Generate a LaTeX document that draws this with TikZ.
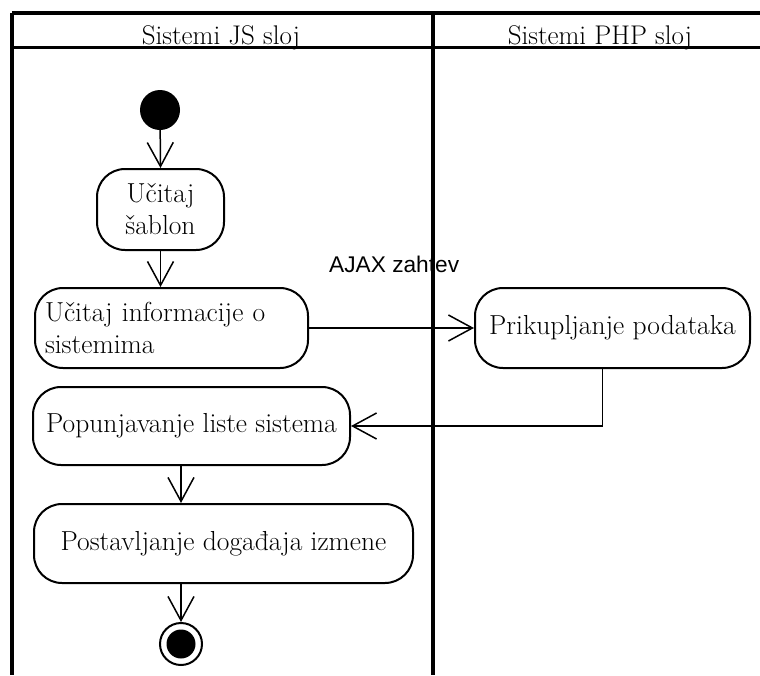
\documentclass[tikz,border=0pt]{standalone}
\usepackage{fontspec}
\newfontfamily\labelsans{Liberation Sans}
\usetikzlibrary{arrows.meta}
\begin{document}
\begin{tikzpicture}[x=1pt,y=-1pt,
  act/.style={draw, line width=2pt, rounded corners=28pt, inner sep=0pt,
    font=\fontsize{27.5}{32}\selectfont, align=center},
  flow/.style={line width=1.5pt, -{Straight Barb[length=24pt,width=26pt,line width=1.5pt]}},
  lane/.style={line width=4pt},
  lanetitle/.style={anchor=base, font=\fontsize{27}{30}\selectfont, inner sep=0pt}]
\useasboundingbox (0,0) rectangle (760,675);

% activities
\node[fill=black, circle, minimum size=40pt, inner sep=0pt] (start) at (160,110) {};
\node[act, minimum width=127pt, minimum height=81pt] (sab) at (160.5,209.5) {U\v{c}itaj\\\v{s}ablon};
\node[act, minimum width=273pt, minimum height=80pt, text width=253pt, inner xsep=10pt, align=left] (info) at (171.5,328)
  {U\v{c}itaj informacije o\\sistemima};
\node[act, minimum width=275pt, minimum height=80pt] (prik) at (612.5,328) {Prikupljanje podataka};
\node[act, minimum width=317pt, minimum height=78pt] (pop) at (191.5,426) {Popunjavanje liste sistema};
\node[act, minimum width=379pt, minimum height=79pt] (post) at (223.5,543.5) {Postavljanje doga\dj aja izmene};
\node[draw, circle, line width=2pt, minimum size=42pt, inner sep=0pt] (fin) at (181,644) {};
\node[fill=black, circle, minimum size=29pt, inner sep=0pt] (fincore) at (fin) {};

% connector label
\node[anchor=base west, inner sep=0pt, font=\labelsans\fontsize{22.7}{26}\selectfont] (ajax) at (329,272) {AJAX zahtev};

% control flow
\draw[flow] (start) -- (sab.north);
\draw[flow] (sab.south) -- (sab.south |- info.north);
\draw[flow] (info.east) -- (prik.west);
\draw[flow] ([xshift=-10pt]prik.south) |- (pop.east);
\draw[flow] (pop.south -| fin) -- (post.north -| fin);
\draw[flow] (post.south -| fin) -- (fin.north);

% swimlanes
\coordinate (tl) at (12,13);
\coordinate (tr) at (760,13);
\coordinate (hl) at (12,47);
\coordinate (hr) at (760,47);
\coordinate (bl) at (12,675);
\coordinate (dt) at (433,13);
\coordinate (db) at (433,675);
\draw[lane] (tl) -- (tr);
\draw[lane] (tl) -- (bl);
\draw[lane] (dt) -- (db);
\draw[line width=3pt] (hl) -- (hr);
\node[lanetitle] (jslane) at (221,44) {Sistemi JS sloj};
\node[lanetitle] (phplane) at (600,44) {Sistemi PHP sloj};
\end{tikzpicture}
\end{document}
